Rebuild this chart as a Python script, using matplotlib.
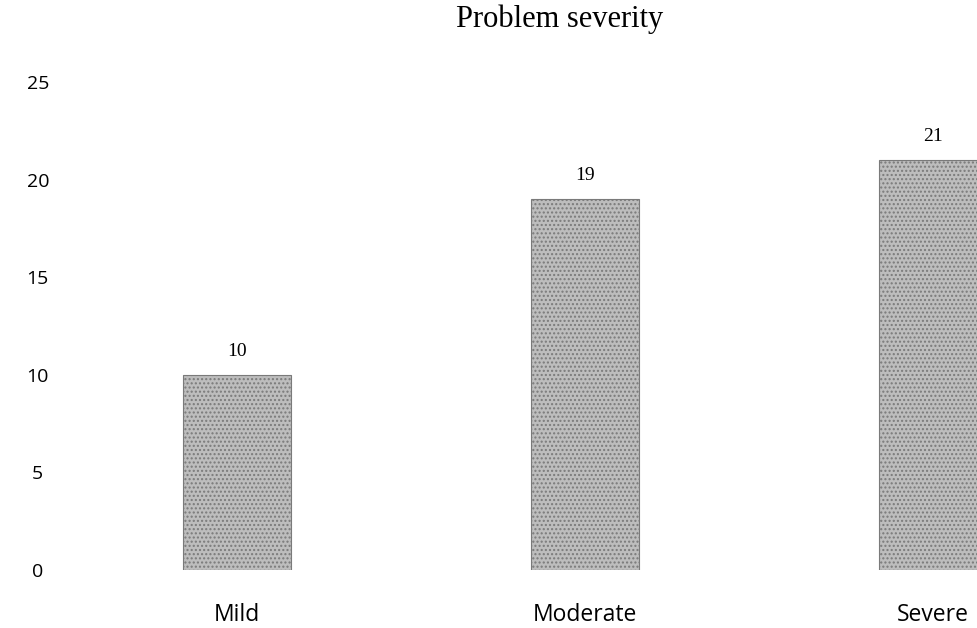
import matplotlib
matplotlib.use('Agg')
import matplotlib.pyplot as plt

categories = ['Mild', 'Moderate', 'Severe']
counts = [10, 19, 21]
y_ticks = [0, 5, 10, 15, 20, 25]

W, H = 978, 628
fig = plt.figure(figsize=(W / 100, H / 100), dpi=100)
ax = fig.add_axes([60 / W, 58 / H, (W - 60) / W, 488 / H])

x = list(range(len(categories)))
bars = ax.bar(x, counts, width=0.31, color='#bdbdbd', edgecolor='#7a7a7a',
              linewidth=0.8, hatch='....')

ax.bar_label(bars, labels=[str(c) for c in counts], padding=11,
             fontsize=14, family='Liberation Serif', color='black')

ax.set_xlim(-0.509, 2.129)
ax.set_ylim(0, 25)
ax.set_yticks(y_ticks)
ax.set_xticks(x)
ax.set_xticklabels(categories, fontsize=16.5, family='Open Sans')
ax.set_yticklabels([str(t) for t in y_ticks], fontsize=14, family='Open Sans', ha='center')
ax.tick_params(axis='x', length=0, pad=24)
ax.tick_params(axis='y', length=0, pad=16)

for s in ax.spines.values():
    s.set_visible(False)
ax.grid(False)

fig.text(560 / W, 1 - 19 / H, 'Problem severity', ha='center', va='center',
         fontsize=22, family='Liberation Serif')

fig.savefig('out.png', dpi=100)
